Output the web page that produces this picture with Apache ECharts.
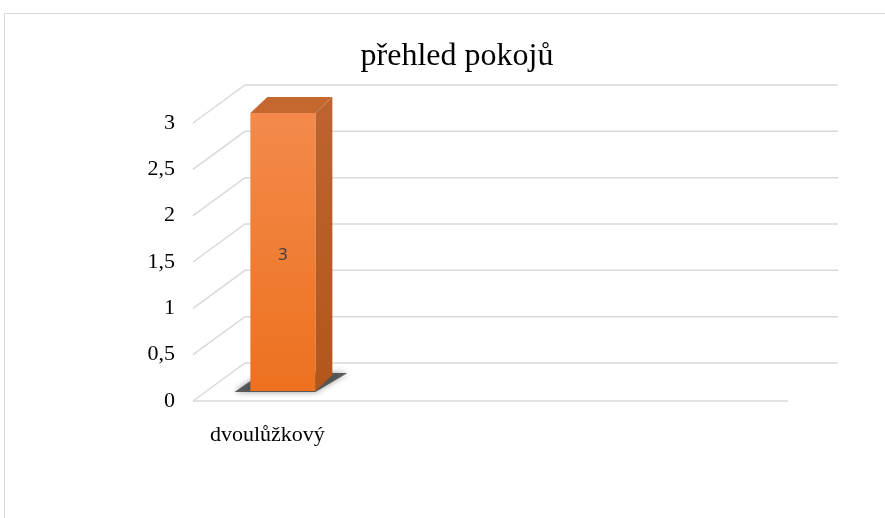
<!DOCTYPE html>
<html><head><meta charset="utf-8">
<script src="https://cdn.jsdelivr.net/npm/echarts@6/dist/echarts.min.js"></script>
<style>html,body{margin:0;padding:0;background:#fff}#c{width:885px;height:518px}</style>
</head><body><div id="c"></div>
<script>
const titleText = 'přehled pokojů';
const categories = ['dvoulůžkový', '', '', ''];
const values = [3, null, null, null];
const yTicks = [0, 0.5, 1, 1.5, 2, 2.5, 3];

const chart = echarts.init(document.getElementById('c'));
const DX = 52, DY = -38; // depth offset of walls
const serif = '"Liberation Serif","Times New Roman",serif';

chart.setOption({
  animation: false,
  title: {
    text: titleText, left: 452, top: 36, textAlign: 'center',
    textStyle: { fontFamily: serif, fontSize: 32, fontWeight: 'normal', color: '#000' }
  },
  graphic: [{
    type: 'rect', shape: { x: 4.5, y: 13.5, width: 920, height: 600 },
    style: { fill: 'none', stroke: '#d9d9d9', lineWidth: 1 }, silent: true
  }],
  grid: { left: 193, right: 97, top: 123, bottom: 117 },
  xAxis: {
    type: 'category', data: categories,
    axisLine: { show: false }, axisTick: { show: false },
    axisLabel: { margin: 23, fontFamily: serif, fontSize: 22, color: '#000', interval: 0 }
  },
  yAxis: {
    type: 'value', min: 0, max: 3, interval: 0.5,
    splitLine: { show: false }, axisLine: { show: false }, axisTick: { show: false },
    axisLabel: { margin: 18, fontFamily: serif, fontSize: 22, color: '#000', padding: [5, 0, 0, 0],
      formatter: v => String(v).replace('.', ',') }
  },
  series: [
    {
      type: 'custom', z: 1, silent: true,
      data: yTicks.map(v => [0, v]),
      renderItem: function (params, api) {
        const cs = params.coordSys;
        const y = api.coord([0, api.value(1)])[1];
        const x0 = cs.x, x1 = cs.x + cs.width;
        const children = [{
          type: 'polyline',
          shape: { points: [[x0, y], [x0 + DX, y + DY], [x1 + DX - 2, y + DY]] },
          style: { stroke: '#d9d9d9', lineWidth: 1.5, fill: 'none' }
        }];
        if (api.value(1) === 0) {
          children.push({ type: 'line', shape: { x1: x0, y1: y, x2: x1, y2: y },
            style: { stroke: '#d9d9d9', lineWidth: 1.5 } });
        }
        return { type: 'group', children };
      }
    },
    {
      type: 'custom', z: 3,
      data: values.map((v, i) => [i, v]).filter(d => d[1] != null),
      renderItem: function (params, api) {
        const val = api.value(1);
        if (val == null || isNaN(val)) return null;
        const base = api.coord([api.value(0), 0]);
        const top = api.coord([api.value(0), val]);
        const bw = 65;
        const fx0 = base[0] - 17, fx1 = fx0 + bw;
        const fyb = base[1] - 10, fyt = top[1] - 10;
        const ddx = 17, ddy = -16;
        return {
          type: 'group',
          children: [
            { type: 'polygon',
              shape: { points: [[fx0 - 16, fyb + 1], [fx1, fyb + 1], [fx1 + 32, fyb - 18], [fx0 + 12, fyb - 18]] },
              style: { fill: 'rgba(60,60,60,0.8)', shadowBlur: 6, shadowColor: 'rgba(0,0,0,0.5)' } },
            { type: 'polygon',
              shape: { points: [[fx1, fyt], [fx1 + ddx, fyt + ddy], [fx1 + ddx, fyb + ddy], [fx1, fyb]] },
              style: { fill: new echarts.graphic.LinearGradient(0, 0, 0, 1, [
                { offset: 0, color: '#bd6430' }, { offset: 1, color: '#b3561a' }]) } },
            { type: 'polygon',
              shape: { points: [[fx0, fyt], [fx0 + ddx, fyt + ddy], [fx1 + ddx, fyt + ddy], [fx1, fyt]] },
              style: { fill: '#c4682f' } },
            { type: 'rect',
              shape: { x: fx0, y: fyt, width: bw, height: fyb - fyt },
              style: { fill: new echarts.graphic.LinearGradient(0, 0, 0, 1, [
                { offset: 0, color: '#f38a4b' }, { offset: 1, color: '#ed711f' }]) } },
            { type: 'text',
              style: { text: String(val).replace('.', ','), x: (fx0 + fx1) / 2, y: (fyt + fyb) / 2 + 3,
                align: 'center', verticalAlign: 'middle',
                font: '17px "Noto Sans", "Liberation Sans", sans-serif', fill: '#404040' } }
          ]
        };
      }
    }
  ]
});
</script></body></html>
